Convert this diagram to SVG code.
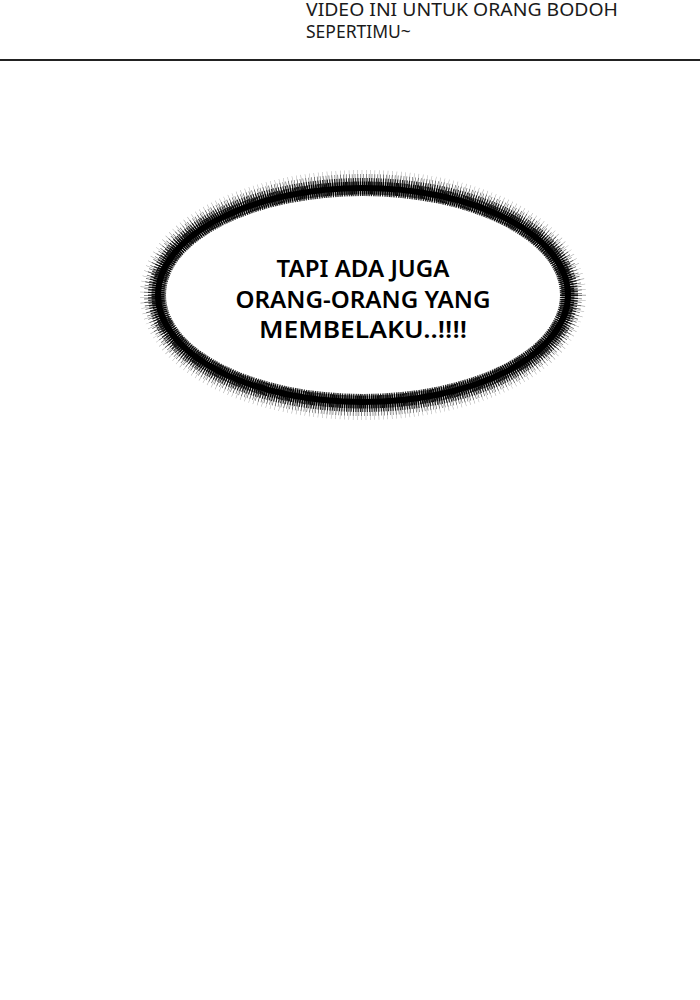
<svg xmlns="http://www.w3.org/2000/svg" width="700" height="1000" viewBox="0 0 700 1000">
<style>
.cap{font-family:"Noto Sans","Open Sans","DejaVu Sans",sans-serif;font-size:17.5px;fill:#1a1a1a}
.sp{font-family:"Noto Sans","Open Sans","DejaVu Sans",sans-serif;font-size:24px;font-weight:600;fill:#000;text-anchor:middle}
.ring{fill:none;stroke:#000}
</style>
<defs>
<filter id="soft" x="-10%" y="-10%" width="120%" height="120%"><feGaussianBlur stdDeviation="0.7"/></filter>
</defs>
<rect width="700" height="1000" fill="#fff"/>
<g id="caption">
<text class="cap" x="306" y="15.5" textLength="312" lengthAdjust="spacingAndGlyphs">VIDEO INI UNTUK ORANG BODOH</text>
<text class="cap" x="306" y="38">SEPERTIMU~</text>
</g>
<line id="panel-border" x1="0" y1="60" x2="700" y2="60" stroke="#222" stroke-width="2.2"/>
<g id="bubble">
<g filter="url(#soft)">
<ellipse class="ring" cx="363" cy="295" rx="205" ry="107" stroke-width="36" stroke-dasharray="0.5 3.7" opacity="0.35"/>
<ellipse class="ring" cx="363" cy="295" rx="205" ry="107" stroke-width="28" stroke-dasharray="0.7 2.1" opacity="0.6"/>
<ellipse class="ring" cx="363" cy="295" rx="205" ry="107" stroke-width="20" stroke-dasharray="1.1 1.2" opacity="0.85"/>
<ellipse class="ring" cx="363" cy="295" rx="205" ry="107" stroke-width="13" stroke-dasharray="1.4 0.7" opacity="0.95"/>
<ellipse class="ring" cx="363" cy="295" rx="205" ry="107" stroke-width="6"/>
</g>
<ellipse cx="363" cy="295" rx="197" ry="99" fill="#fff" filter="url(#soft)"/>
<text class="sp" x="363" y="277" textLength="173" lengthAdjust="spacingAndGlyphs">TAPI ADA JUGA</text>
<text class="sp" x="363" y="308" textLength="255" lengthAdjust="spacingAndGlyphs">ORANG-ORANG YANG</text>
<text class="sp" x="363" y="338" textLength="208" lengthAdjust="spacingAndGlyphs">MEMBELAKU..!!!!</text>
</g>
</svg>
